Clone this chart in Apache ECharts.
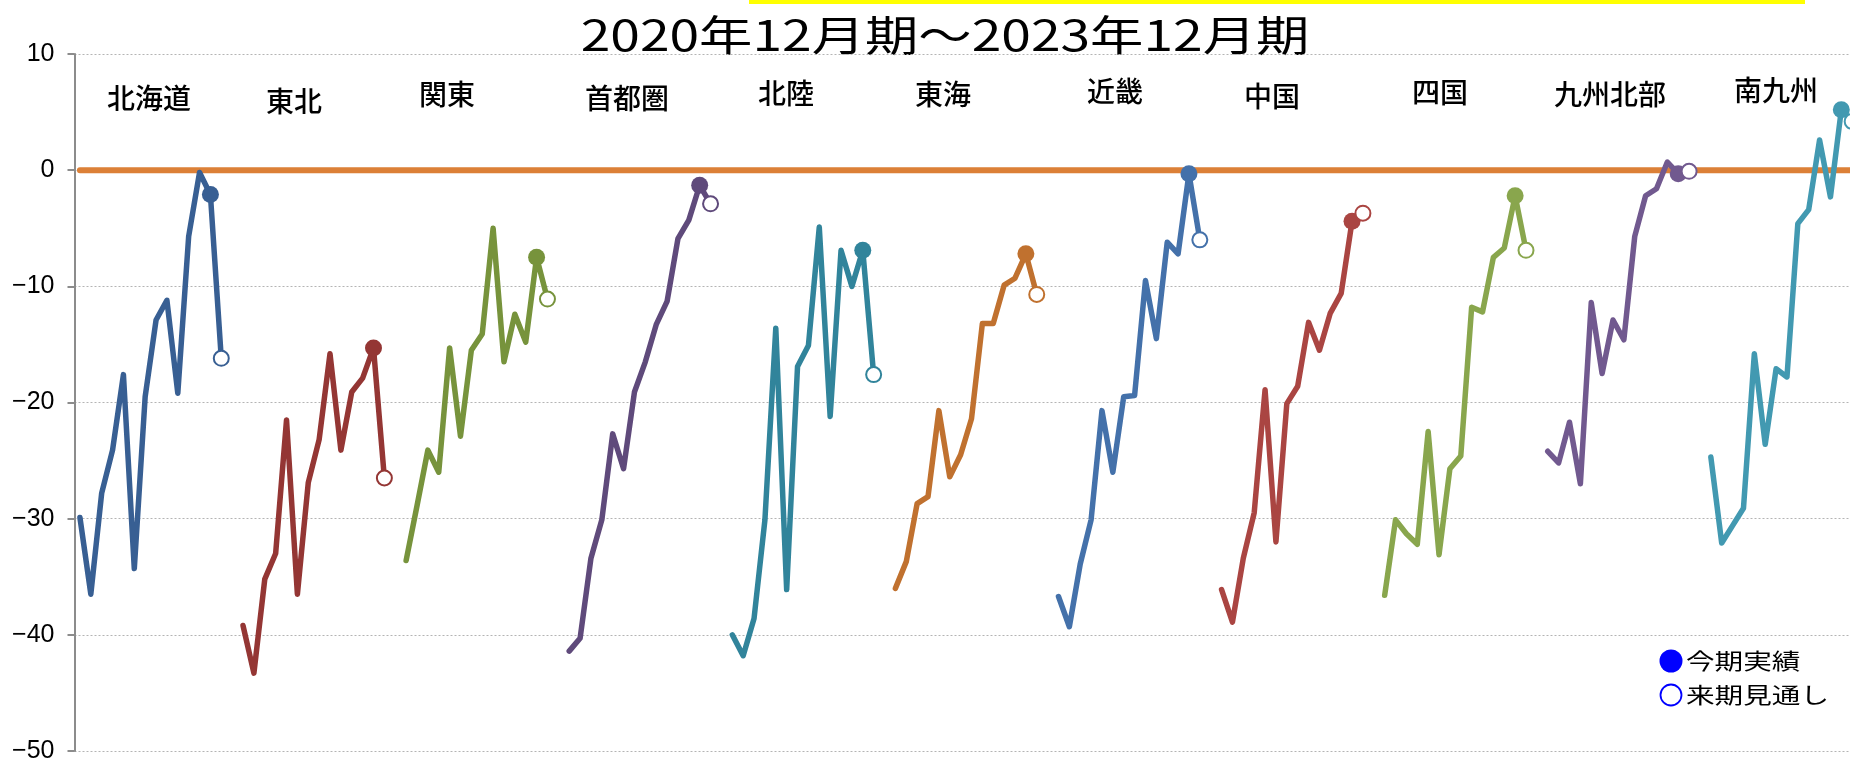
<!DOCTYPE html>
<html>
<head>
<meta charset="utf-8">
<script src="https://cdn.jsdelivr.net/npm/echarts@6/dist/echarts.min.js"></script>
<style>
html, body { margin: 0; padding: 0; background: #fff; }
#main { width: 1850px; height: 762px; }
</style>
</head>
<body>
<div id="main"></div>
<script>
// 地域ごとの推移（2020年12月期〜2023年12月期）と来期見通し
const regions = ['北海道', '東北', '関東', '首都圏', '北陸', '東海', '近畿', '中国', '四国', '九州北部', '南九州'];
const quarters = ['2020/12', '2021/03', '2021/06', '2021/09', '2021/12', '2022/03', '2022/06',
  '2022/09', '2022/12', '2023/03', '2023/06', '2023/09', '2023/12'];
const forecastLabel = '2024/03見通し';

const hokkaido = [-29.9, -36.5, -27.8, -24.1, -17.6, -34.3, -19.5, -12.9, -11.2, -19.2, -5.7, -0.2, -2.1];
const tohoku = [-39.2, -43.3, -35.2, -33.0, -21.5, -36.5, -26.9, -23.2, -15.8, -24.1, -19.1, -17.9, -15.3];
const kanto = [-33.6, -28.9, -24.1, -26.0, -15.3, -22.9, -15.5, -14.1, -5.0, -16.5, -12.4, -14.8, -7.5];
const shutoken = [-41.4, -40.3, -33.4, -30.1, -22.7, -25.7, -19.1, -16.5, -13.3, -11.3, -5.9, -4.3, -1.3];
const hokuriku = [-40.0, -41.8, -38.6, -30.1, -13.6, -36.1, -16.9, -15.1, -4.9, -21.2, -6.9, -10.0, -6.9];
const tokai = [-36.0, -33.7, -28.7, -28.1, -20.7, -26.4, -24.5, -21.4, -13.2, -13.2, -9.9, -9.3, -7.2];
const kinki = [-36.7, -39.3, -33.9, -30.1, -20.7, -26.0, -19.5, -19.4, -9.5, -14.5, -6.2, -7.2, -0.3];
const chugoku = [-36.1, -38.9, -33.4, -29.5, -18.9, -32.0, -20.1, -18.6, -13.1, -15.5, -12.3, -10.6, -4.4];
const shikoku = [-36.6, -30.1, -31.3, -32.2, -22.5, -33.1, -25.7, -24.6, -11.8, -12.2, -7.5, -6.7, -2.2];
const kyushuNorth = [-24.2, -25.2, -21.7, -27.0, -11.4, -17.5, -12.9, -14.6, -5.7, -2.2, -1.6, 0.7, -0.3];
const minamiKyushu = [-24.7, -32.1, -30.6, -29.1, -15.8, -23.6, -17.1, -17.8, -4.6, -3.4, 2.6, -2.3, 5.2];
const actuals = [hokkaido, tohoku, kanto, shutoken, hokuriku, tokai, kinki, chugoku, shikoku, kyushuNorth, minamiKyushu];

// 来期見通し
const forecasts = [-16.2, -26.5, -11.1, -2.9, -17.6, -10.7, -6.0, -3.7, -6.9, -0.1, 4.2];

const yTicks = [10, 0, -10, -20, -30, -40, -50];

const colors = ['#385F93', '#943634', '#77933C', '#5F4A7B', '#31849B', '#C0712F',
  '#4471AA', '#AA4542', '#89A64D', '#71598F', '#4299B1'];
const labelPos = [[149, 98], [294, 101], [447, 94], [627, 98], [786, 93], [943, 94],
  [1115, 91], [1272, 96], [1440, 92], [1610, 94], [1776, 90]];

// カテゴリ（各地域14枠＋区切り1枠）
const slot = quarters.length + 2;
const categories = [];
regions.forEach((r) => {
  quarters.forEach((q) => categories.push(r + ' ' + q));
  categories.push(r + ' ' + forecastLabel);
  categories.push(r + ' ');
});

const series = [];
// 0ライン
series.push({
  type: 'line',
  data: categories.map(() => 0),
  symbol: 'none',
  lineStyle: { color: '#DC8037', width: 6, cap: 'round' },
  z: 1
});
const nowPts = [];
const nextPts = [];
regions.forEach((r, k) => {
  const start = k * slot;
  const pts = actuals[k].map((v, i) => [start + i, v]);
  pts.push([start + quarters.length, forecasts[k]]);
  series.push({
    name: r,
    type: 'line',
    data: pts,
    symbol: 'none',
    lineStyle: { color: colors[k], width: 5.5, cap: 'round', join: 'round' },
    z: 2
  });
  const last = actuals[k][actuals[k].length - 1];
  nowPts.push({ value: [start + quarters.length - 1, last], itemStyle: { color: colors[k] } });
  nextPts.push({ value: [start + quarters.length, forecasts[k]], itemStyle: { color: '#fff', borderColor: colors[k] } });
});
series.push({
  name: '今期実績',
  type: 'scatter',
  data: nowPts,
  symbol: 'circle',
  symbolSize: 17,
  itemStyle: { opacity: 1 },
  z: 3
});
series.push({
  name: '来期見通し',
  type: 'scatter',
  data: nextPts,
  symbol: 'circle',
  symbolSize: 15,
  itemStyle: { borderWidth: 2, opacity: 1 },
  z: 4
});

const jp = '"Noto Sans CJK JP", sans-serif';
const graphics = [
  { type: 'rect', shape: { x: 749, y: 0, width: 1056, height: 4 }, style: { fill: '#FFFF00' } },
  {
    type: 'text', x: 945, y: 35, scaleX: 1.27,
    style: { text: '2020年12月期～2023年12月期', font: '42px ' + jp, fill: '#000', align: 'center', verticalAlign: 'middle' }
  },
  { type: 'circle', shape: { cx: 1671, cy: 661, r: 11.5 }, style: { fill: '#0000FF' } },
  { type: 'circle', shape: { cx: 1671, cy: 695, r: 10.5 }, style: { fill: '#fff', stroke: '#0000FF', lineWidth: 1.8 } },
  {
    type: 'text', x: 1686, y: 661, scaleX: 1.3,
    style: { text: '今期実績', font: '22px ' + jp, fill: '#000', align: 'left', verticalAlign: 'middle' }
  },
  {
    type: 'text', x: 1686, y: 695, scaleX: 1.3,
    style: { text: '来期見通し', font: '22px ' + jp, fill: '#000', align: 'left', verticalAlign: 'middle' }
  }
];
regions.forEach((r, k) => {
  graphics.push({
    type: 'text', x: labelPos[k][0], y: labelPos[k][1],
    style: { text: r, font: '500 28px ' + jp, fill: '#000', align: 'center', verticalAlign: 'middle' }
  });
});

const chart = echarts.init(document.getElementById('main'));
chart.setOption({
  animation: false,
  backgroundColor: '#fff',
  // 右端は画面外まで伸ばす（南九州の見通しが端で切れる）
  grid: { left: 74.5, right: -18.5, top: 54, height: 697, outerBoundsMode: 'none' },
  xAxis: {
    type: 'category',
    data: categories,
    boundaryGap: true,
    axisLine: { show: false },
    axisTick: { show: false },
    axisLabel: { show: false },
    splitLine: { show: false }
  },
  yAxis: {
    type: 'value',
    min: yTicks[yTicks.length - 1],
    max: yTicks[0],
    interval: 10,
    axisLine: { show: true, lineStyle: { color: '#8c8c8c', width: 2 } },
    axisTick: { show: true, length: 7, lineStyle: { color: '#8c8c8c', width: 2 } },
    axisLabel: {
      margin: 20,
      fontSize: 25,
      fontFamily: '"Liberation Sans", Arial, sans-serif',
      color: '#000',
      formatter: (v) => String(v).replace('-', '−')
    },
    splitLine: { show: true, lineStyle: { color: '#b4b4b4', type: [2, 2], width: 1 } }
  },
  graphic: graphics,
  series: series
});
</script>
</body>
</html>
